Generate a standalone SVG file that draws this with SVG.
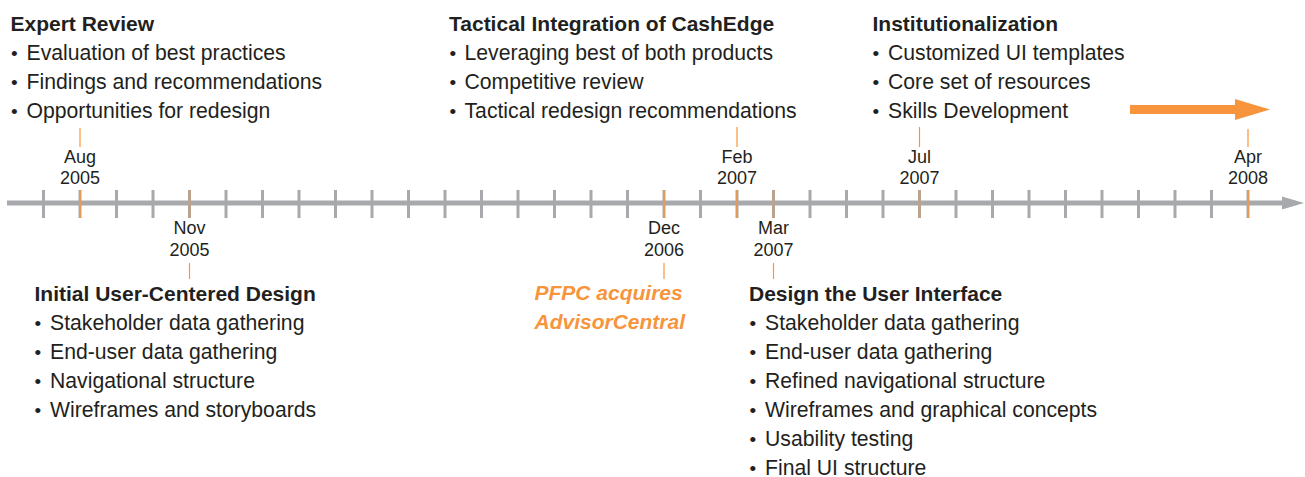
<svg xmlns="http://www.w3.org/2000/svg" width="1305" height="477" viewBox="0 0 1305 477">
  <style>
    text { font-family: "Liberation Sans", Arial, Helvetica, sans-serif; fill: #231f20; }
    .head { font-size: 21px; font-weight: bold; }
    .item { font-size: 21.2px; }
    .bul { font-size: 19px; }
    .date { font-size: 18px; text-anchor: middle; }
    .event { font-size: 21px; font-weight: bold; font-style: italic; fill: #f7943c; }
    .tick { stroke: #a7a9ac; stroke-width: 3; }
    .mark { stroke: #f7943c; stroke-width: 1.5; }
    .lead { stroke: #f7943c; stroke-width: 1.2; }
  </style>

  <!-- Time axis with monthly ticks (Jul 2005 .. Apr 2008) -->
  <g id="axis">
    <line x1="7" y1="203" x2="1286" y2="203" stroke="#a7a9ac" stroke-width="5"/>
    <polygon points="1282,196.5 1304,203 1282,209.5" fill="#a7a9ac"/>
    <g class="ticks">
      <line class="tick" x1="43.5" y1="190" x2="43.5" y2="218"/>
      <line class="tick" x1="80" y1="190" x2="80" y2="218"/>
      <line class="tick" x1="116.5" y1="190" x2="116.5" y2="218"/>
      <line class="tick" x1="153" y1="190" x2="153" y2="218"/>
      <line class="tick" x1="189.5" y1="190" x2="189.5" y2="218"/>
      <line class="tick" x1="226" y1="190" x2="226" y2="218"/>
      <line class="tick" x1="262.5" y1="190" x2="262.5" y2="218"/>
      <line class="tick" x1="299" y1="190" x2="299" y2="218"/>
      <line class="tick" x1="335.5" y1="190" x2="335.5" y2="218"/>
      <line class="tick" x1="372" y1="190" x2="372" y2="218"/>
      <line class="tick" x1="408.5" y1="190" x2="408.5" y2="218"/>
      <line class="tick" x1="445" y1="190" x2="445" y2="218"/>
      <line class="tick" x1="481.5" y1="190" x2="481.5" y2="218"/>
      <line class="tick" x1="518" y1="190" x2="518" y2="218"/>
      <line class="tick" x1="554.5" y1="190" x2="554.5" y2="218"/>
      <line class="tick" x1="591" y1="190" x2="591" y2="218"/>
      <line class="tick" x1="627.5" y1="190" x2="627.5" y2="218"/>
      <line class="tick" x1="664" y1="190" x2="664" y2="218"/>
      <line class="tick" x1="700.5" y1="190" x2="700.5" y2="218"/>
      <line class="tick" x1="737" y1="190" x2="737" y2="218"/>
      <line class="tick" x1="773.5" y1="190" x2="773.5" y2="218"/>
      <line class="tick" x1="810" y1="190" x2="810" y2="218"/>
      <line class="tick" x1="846.5" y1="190" x2="846.5" y2="218"/>
      <line class="tick" x1="883" y1="190" x2="883" y2="218"/>
      <line class="tick" x1="919.5" y1="190" x2="919.5" y2="218"/>
      <line class="tick" x1="956" y1="190" x2="956" y2="218"/>
      <line class="tick" x1="992.5" y1="190" x2="992.5" y2="218"/>
      <line class="tick" x1="1029" y1="190" x2="1029" y2="218"/>
      <line class="tick" x1="1065.5" y1="190" x2="1065.5" y2="218"/>
      <line class="tick" x1="1102" y1="190" x2="1102" y2="218"/>
      <line class="tick" x1="1138.5" y1="190" x2="1138.5" y2="218"/>
      <line class="tick" x1="1175" y1="190" x2="1175" y2="218"/>
      <line class="tick" x1="1211.5" y1="190" x2="1211.5" y2="218"/>
      <line class="tick" x1="1248" y1="190" x2="1248" y2="218"/>
    </g>
  </g>

  <!-- Connectors: highlighted milestone ticks and leader lines to the phases -->
  <g id="connectors">
    <line class="mark" x1="80" y1="190" x2="80" y2="218"/>
    <line class="mark" x1="189.5" y1="190" x2="189.5" y2="218"/>
    <line class="mark" x1="664" y1="190" x2="664" y2="218"/>
    <line class="mark" x1="737" y1="190" x2="737" y2="218"/>
    <line class="mark" x1="773.5" y1="190" x2="773.5" y2="218"/>
    <line class="mark" x1="919.5" y1="190" x2="919.5" y2="218"/>
    <line class="mark" x1="1248" y1="190" x2="1248" y2="218"/>

    <line class="lead" x1="80" y1="128" x2="80" y2="147"/>
    <line class="lead" x1="737" y1="127" x2="737" y2="147"/>
    <line class="lead" x1="919.5" y1="127" x2="919.5" y2="147"/>
    <line class="lead" x1="1248" y1="129" x2="1248" y2="147"/>
    <line class="lead" x1="189.5" y1="263" x2="189.5" y2="279"/>
    <line class="lead" x1="664" y1="263" x2="664" y2="279"/>
    <line class="lead" x1="773.5" y1="263" x2="773.5" y2="279"/>

    <!-- ongoing arrow -->
    <polygon points="1130,105 1235,105 1235,99 1270,109.5 1235,120 1235,114 1130,114" fill="#f7943c"/>
  </g>

  <!-- Date labels -->
  <g id="date-aug-2005"><text class="date" x="80" y="163">Aug</text><text class="date" x="80" y="184">2005</text></g>
  <g id="date-nov-2005"><text class="date" x="189.5" y="234">Nov</text><text class="date" x="189.5" y="256">2005</text></g>
  <g id="date-dec-2006"><text class="date" x="664" y="234">Dec</text><text class="date" x="664" y="256">2006</text></g>
  <g id="date-feb-2007"><text class="date" x="737" y="163">Feb</text><text class="date" x="737" y="184">2007</text></g>
  <g id="date-mar-2007"><text class="date" x="773.5" y="234">Mar</text><text class="date" x="773.5" y="256">2007</text></g>
  <g id="date-jul-2007"><text class="date" x="919.5" y="163">Jul</text><text class="date" x="919.5" y="184">2007</text></g>
  <g id="date-apr-2008"><text class="date" x="1248" y="163">Apr</text><text class="date" x="1248" y="184">2008</text></g>

  <!-- Phase: Expert Review -->
  <g id="expert-review">
    <text class="head" x="10.5" y="31">Expert Review</text>
    <text class="item" y="60"><tspan class="bul" x="11">•</tspan><tspan x="26.5">Evaluation of best practices</tspan></text>
    <text class="item" y="89"><tspan class="bul" x="11">•</tspan><tspan x="26.5">Findings and recommendations</tspan></text>
    <text class="item" y="118"><tspan class="bul" x="11">•</tspan><tspan x="26.5">Opportunities for redesign</tspan></text>
  </g>

  <!-- Phase: Tactical Integration of CashEdge -->
  <g id="tactical-integration">
    <text class="head" x="449" y="31">Tactical Integration of CashEdge</text>
    <text class="item" y="60"><tspan class="bul" x="449.5">•</tspan><tspan x="464.5">Leveraging best of both products</tspan></text>
    <text class="item" y="89"><tspan class="bul" x="449.5">•</tspan><tspan x="464.5">Competitive review</tspan></text>
    <text class="item" y="118"><tspan class="bul" x="449.5">•</tspan><tspan x="464.5">Tactical redesign recommendations</tspan></text>
  </g>

  <!-- Phase: Institutionalization -->
  <g id="institutionalization">
    <text class="head" x="872.5" y="31">Institutionalization</text>
    <text class="item" y="60"><tspan class="bul" x="872.5">•</tspan><tspan x="888">Customized UI templates</tspan></text>
    <text class="item" y="89"><tspan class="bul" x="872.5">•</tspan><tspan x="888">Core set of resources</tspan></text>
    <text class="item" y="118"><tspan class="bul" x="872.5">•</tspan><tspan x="888">Skills Development</tspan></text>
  </g>

  <!-- Phase: Initial User-Centered Design -->
  <g id="initial-ucd">
    <text class="head" x="34.5" y="301">Initial User-Centered Design</text>
    <text class="item" y="330"><tspan class="bul" x="34.5">•</tspan><tspan x="50">Stakeholder data gathering</tspan></text>
    <text class="item" y="359"><tspan class="bul" x="34.5">•</tspan><tspan x="50">End-user data gathering</tspan></text>
    <text class="item" y="388"><tspan class="bul" x="34.5">•</tspan><tspan x="50">Navigational structure</tspan></text>
    <text class="item" y="417"><tspan class="bul" x="34.5">•</tspan><tspan x="50">Wireframes and storyboards</tspan></text>
  </g>

  <!-- Event: acquisition -->
  <g id="pfpc-acquires">
    <text class="event" x="534.5" y="300">PFPC acquires</text>
    <text class="event" x="534.5" y="329">AdvisorCentral</text>
  </g>

  <!-- Phase: Design the User Interface -->
  <g id="design-ui">
    <text class="head" x="749" y="301">Design the User Interface</text>
    <text class="item" y="330"><tspan class="bul" x="749.5">•</tspan><tspan x="765">Stakeholder data gathering</tspan></text>
    <text class="item" y="359"><tspan class="bul" x="749.5">•</tspan><tspan x="765">End-user data gathering</tspan></text>
    <text class="item" y="388"><tspan class="bul" x="749.5">•</tspan><tspan x="765">Refined navigational structure</tspan></text>
    <text class="item" y="417"><tspan class="bul" x="749.5">•</tspan><tspan x="765">Wireframes and graphical concepts</tspan></text>
    <text class="item" y="446"><tspan class="bul" x="749.5">•</tspan><tspan x="765">Usability testing</tspan></text>
    <text class="item" y="475"><tspan class="bul" x="749.5">•</tspan><tspan x="765">Final UI structure</tspan></text>
  </g>
</svg>
